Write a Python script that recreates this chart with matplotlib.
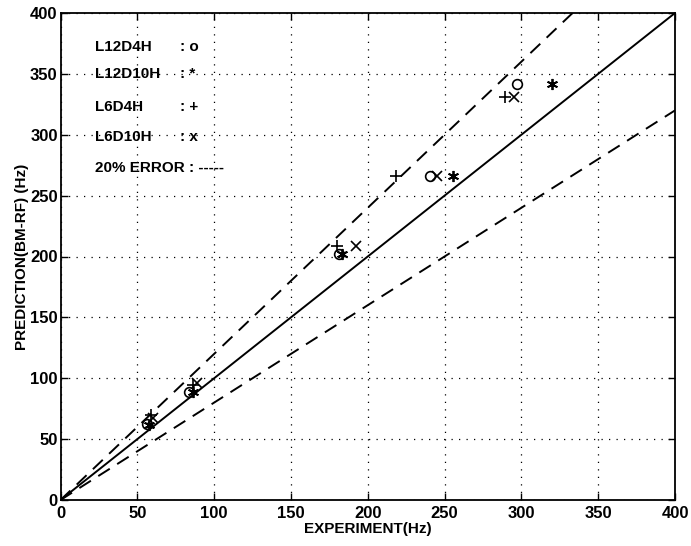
import numpy as np
import matplotlib.pyplot as plt

plt.rcParams['font.family'] = ['Liberation Sans', 'DejaVu Sans']
plt.rcParams['font.weight'] = 'bold'

# experiment vs prediction (Hz)
l12d4h_exp = [56.5, 83.5, 181.5, 240.5, 297]
l12d4h_pre = [62.5, 88.5, 202, 266.5, 341.5]

l12d10h_exp = [57.5, 86, 183, 255.5, 320]
l12d10h_pre = [62, 88.5, 202, 266.5, 341.5]

l6d4h_exp = [59, 86, 180, 218.5, 289.5]
l6d4h_pre = [70, 94.5, 208.5, 266.5, 331]

l6d10h_exp = [60, 89, 192.5, 245, 295]
l6d10h_pre = [67, 96, 208.5, 266.5, 331]

legend_names = ['L12D4H', 'L12D10H', 'L6D4H', 'L6D10H']
legend_syms = [': o', ': *', ': +', ': x']

fig = plt.figure(figsize=(6.91, 5.46), dpi=100)
ax = fig.add_axes([60.5 / 691, 1 - 500 / 546, (675 - 60.5) / 691, (500 - 13) / 546])

ref = np.array([0, 400])
ax.plot(ref, ref, color='black', lw=1.4)
ax.plot(ref, 1.2 * ref, color='black', lw=1.4, ls=(0, (7, 4.5)))
ax.plot(ref, 0.8 * ref, color='black', lw=1.4, ls=(0, (7, 4.5)))

ax.plot(l12d4h_exp, l12d4h_pre, ls='none', marker='o', ms=7, mfc='none', mec='black', mew=1.2)
ax.plot(l12d10h_exp, l12d10h_pre, ls='none', marker=(6, 2, 0), ms=8, mec='black', mew=1.3)
ax.plot(l6d4h_exp, l6d4h_pre, ls='none', marker='+', ms=8, mec='black', mew=1.2)
ax.plot(l6d10h_exp, l6d10h_pre, ls='none', marker='x', ms=7, mec='black', mew=1.2)

ys = [372, 350, 323, 298]
for name, sym, y in zip(legend_names, legend_syms, ys):
    ax.text(22.5, y, name, fontsize=11, fontweight='bold', va='center')
    ax.text(78, y, sym, fontsize=11, fontweight='bold', va='center')
ax.text(22.5, 273, '20% ERROR : -----', fontsize=11, fontweight='bold', va='center')

ax.set_xlim(0, 400)
ax.set_ylim(0, 400)
ax.set_xticks(np.arange(0, 401, 50))
ax.set_yticks(np.arange(0, 401, 50))
ax.grid(True, color='black', ls=(0, (1, 5)), lw=0.9)
ax.tick_params(direction='in', top=True, right=True, length=5, labelsize=12, width=1, pad=2)
ax.tick_params(axis='x', pad=4)
for lab in ax.get_xticklabels() + ax.get_yticklabels():
    lab.set_fontweight('bold')
for s in ax.spines.values():
    s.set_linewidth(1.3)

ax.set_xlabel('EXPERIMENT(Hz)', fontsize=11, fontweight='bold', labelpad=1)
ax.set_ylabel('PREDICTION(BM-RF) (Hz)', fontsize=11, fontweight='bold', labelpad=1)

fig.savefig('out.png', dpi=100)
